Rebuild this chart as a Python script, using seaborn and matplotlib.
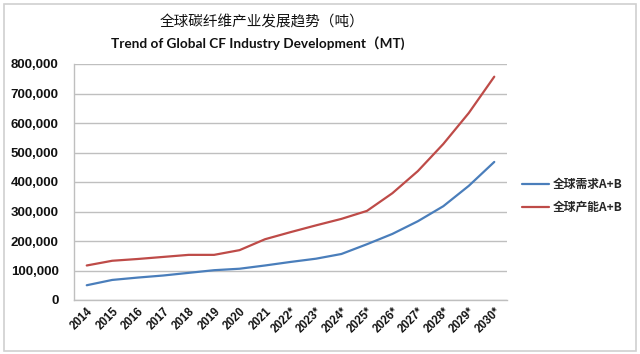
import matplotlib
matplotlib.use("Agg")
import matplotlib.pyplot as plt
import seaborn as sns
import pandas as pd
from matplotlib.patches import Rectangle

years = ["2014", "2015", "2016", "2017", "2018", "2019", "2020", "2021",
         "2022*", "2023*", "2024*", "2025*", "2026*", "2027*", "2028*", "2029*", "2030*"]
demand = [50000, 68000, 76000, 83000, 92000, 101000, 106000, 117000,
          129000, 140000, 156000, 189000, 224000, 267000, 318000, 387000, 468000]
capacity = [117000, 133000, 139000, 146000, 153000, 153000, 169000, 206000,
            230000, 253000, 275000, 302000, 362000, 437000, 529000, 634000, 757000]
series_names = ["全球需求A+B", "全球产能A+B"]
title_cn = "全球碳纤维产业发展趋势（吨）"
title_en = "Trend of Global CF Industry Development（MT)"

df = pd.concat([
    pd.DataFrame({"year": years, "value": demand, "series": series_names[0]}),
    pd.DataFrame({"year": years, "value": capacity, "series": series_names[1]}),
])

sns.set_theme(style="white")
plt.rcParams['font.family'] = ['Liberation Sans', 'Noto Sans CJK SC', 'DejaVu Sans']

fig = plt.figure(figsize=(6.4, 3.54), dpi=100)
ax = fig.add_axes([74/640, 1-300/354, (507-74)/640, (300-64)/354])

sns.lineplot(data=df, x="year", y="value", hue="series", sort=False,
             palette=["#4A7EBB", "#BE4B48"], linewidth=1.6, ax=ax, legend=True)

ax.set_xlim(-0.5, len(years) - 0.5)
ax.set_ylim(0, 800000)
ax.set_yticks(range(0, 800001, 100000))
ax.set_yticklabels([f"{v:,}" for v in range(0, 800001, 100000)],
                   fontsize=9.5, fontweight="bold", color="#111111",
                   family=["Liberation Sans", "DejaVu Sans"])
ax.set_xticks(range(len(years)))
ax.set_xticklabels(years, rotation=45, ha="right", rotation_mode="anchor",
                   fontsize=8.3, fontweight="bold", color="#111111",
                   family=["Liberation Sans", "DejaVu Sans"])
ax.tick_params(axis="y", length=0, pad=11)
ax.tick_params(axis="x", length=0, pad=4)
ax.set_xlabel("")
ax.set_ylabel("")
ax.grid(axis="y", color="#BFBFBF", linewidth=1.0)
ax.set_axisbelow(True)
for s in ["top", "right"]:
    ax.spines[s].set_visible(False)
for s in ["left", "bottom"]:
    ax.spines[s].set_color("#BFBFBF")
    ax.spines[s].set_linewidth(1.0)

handles, labels = ax.get_legend_handles_labels()
ax.legend(handles, labels, loc="center left", bbox_to_anchor=(522/640, 1-196/354),
          bbox_transform=fig.transFigure, frameon=False, borderaxespad=0, borderpad=0,
          prop={"family": ["Noto Sans CJK SC", "DejaVu Sans"], "weight": "bold", "size": 8.5},
          handlelength=2.3, handletextpad=0.3, labelspacing=0.85)

fig.text(262/640, 1-22/354, title_cn, ha="center", va="center", fontsize=10.5,
         family=["Noto Sans CJK SC", "DejaVu Sans"], color="#111111")
fig.text(258/640, 1-43/354, title_en, ha="center", va="center", fontsize=9.8,
         fontweight="bold", family=["Lato", "Noto Sans CJK SC", "DejaVu Sans"], color="#111111")

fig.patches.append(Rectangle((4/640, 3/354), 632/640, 347/354, transform=fig.transFigure,
                             fill=False, edgecolor="#D0D0D0", linewidth=1.2))

fig.savefig("out.png", dpi=100)
